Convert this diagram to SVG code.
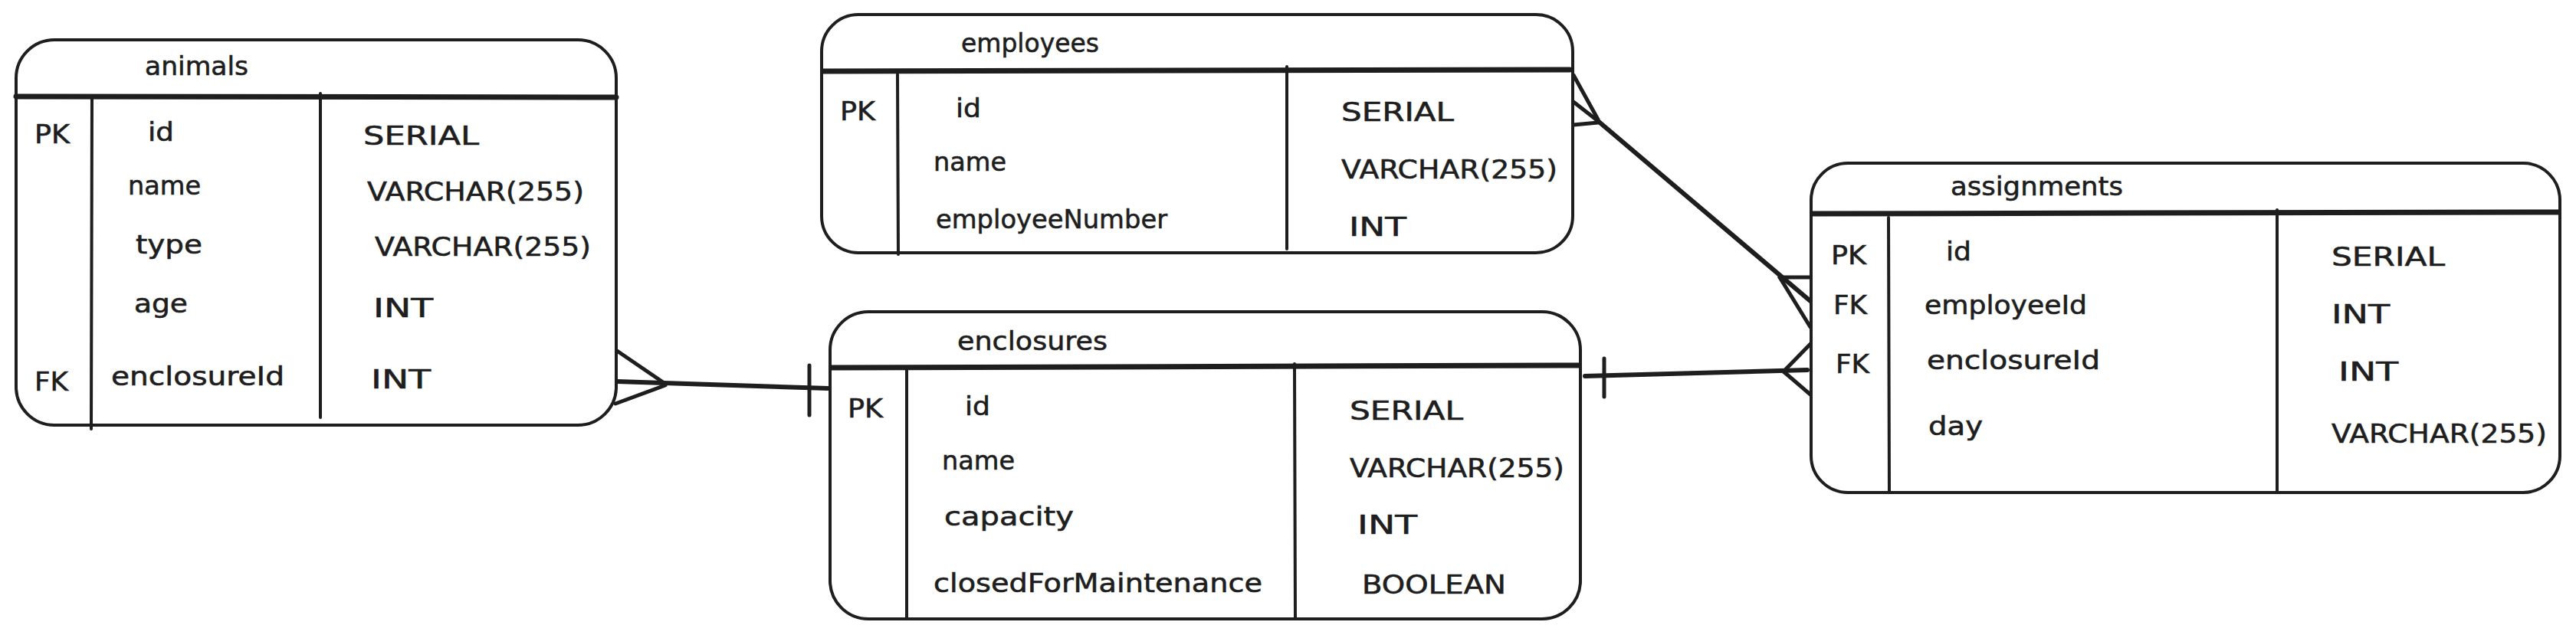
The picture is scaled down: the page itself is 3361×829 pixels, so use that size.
<svg xmlns="http://www.w3.org/2000/svg" width="3361" height="829" viewBox="0 0 3361 829">
<style>
.box{fill:#ffffff;stroke:#1e1e1e;stroke-width:4}
.hdr{stroke:#1e1e1e;stroke-width:7;stroke-linecap:round}
.div{stroke:#1e1e1e;stroke-width:4;stroke-linecap:round}
.con{stroke:#1e1e1e;stroke-width:6;stroke-linecap:round;fill:none}
.prong{stroke:#1e1e1e;stroke-width:5;stroke-linecap:round;fill:none}
text{font-family:"DejaVu Sans","Liberation Sans",sans-serif;font-size:34px;fill:#1e1e1e;stroke:#1e1e1e;stroke-width:0.6}
</style>
<rect width="3361" height="829" fill="#ffffff"/>
<g id="connectors">
  <!-- animals to enclosures -->
  <line class="con" x1="805" y1="498" x2="1080" y2="507"/>
  <line class="prong" x1="805" y1="458" x2="868" y2="501"/>
  <line class="prong" x1="803" y1="527" x2="868" y2="503"/>
  <line class="prong" x1="1056" y1="477" x2="1056" y2="542"/>
  <!-- enclosures to assignments -->
  <line class="con" x1="2068" y1="491" x2="2358" y2="483"/>
  <line class="prong" x1="2093" y1="468" x2="2093" y2="518"/>
  <line class="prong" x1="2327" y1="485" x2="2368" y2="443"/>
  <line class="prong" x1="2327" y1="485" x2="2362" y2="515"/>
  <!-- employees to assignments -->
  <line class="con" x1="2085" y1="158" x2="2362" y2="393"/>
  <line class="prong" x1="2053" y1="98" x2="2085" y2="156"/>
  <line class="prong" x1="2053" y1="133" x2="2085" y2="158"/>
  <line class="prong" x1="2053" y1="163" x2="2085" y2="160"/>
  <line class="prong" x1="2322" y1="362" x2="2375" y2="362"/>
  <line class="prong" x1="2322" y1="362" x2="2362" y2="427"/>
</g>
<g id="animals">
  <rect class="box" x="21" y="52" width="783" height="503" rx="50"/>
  <line class="hdr" x1="21" y1="126" x2="804" y2="127"/>
  <line class="div" x1="120" y1="128" x2="119" y2="560"/>
  <line class="div" x1="418" y1="122" x2="418" y2="545"/>
  <text x="189" y="98" textLength="135" lengthAdjust="spacingAndGlyphs">animals</text>
  <text x="45" y="187" textLength="46" lengthAdjust="spacingAndGlyphs">PK</text>
  <text x="193" y="184" textLength="34" lengthAdjust="spacingAndGlyphs">id</text>
  <text x="474" y="189" textLength="151" lengthAdjust="spacingAndGlyphs">SERIAL</text>
  <text x="167" y="254" textLength="95" lengthAdjust="spacingAndGlyphs">name</text>
  <text x="479" y="262" textLength="283" lengthAdjust="spacingAndGlyphs">VARCHAR(255)</text>
  <text x="177" y="331" textLength="87" lengthAdjust="spacingAndGlyphs">type</text>
  <text x="489" y="334" textLength="282" lengthAdjust="spacingAndGlyphs">VARCHAR(255)</text>
  <text x="175" y="408" textLength="70" lengthAdjust="spacingAndGlyphs">age</text>
  <text x="487" y="414" textLength="78" lengthAdjust="spacingAndGlyphs">INT</text>
  <text x="45" y="510" textLength="44" lengthAdjust="spacingAndGlyphs">FK</text>
  <text x="145" y="503" textLength="226" lengthAdjust="spacingAndGlyphs">enclosureId</text>
  <text x="484" y="507" textLength="78" lengthAdjust="spacingAndGlyphs">INT</text>
</g>
<g id="employees">
  <rect class="box" x="1072" y="19" width="980" height="311" rx="48"/>
  <line class="hdr" x1="1074" y1="93" x2="2048" y2="91"/>
  <line class="div" x1="1171" y1="97" x2="1172" y2="332"/>
  <line class="div" x1="1679" y1="87" x2="1679" y2="325"/>
  <text x="1254" y="68" textLength="180" lengthAdjust="spacingAndGlyphs">employees</text>
  <text x="1096" y="157" textLength="46" lengthAdjust="spacingAndGlyphs">PK</text>
  <text x="1247" y="153" textLength="33" lengthAdjust="spacingAndGlyphs">id</text>
  <text x="1750" y="158" textLength="147" lengthAdjust="spacingAndGlyphs">SERIAL</text>
  <text x="1218" y="223" textLength="95" lengthAdjust="spacingAndGlyphs">name</text>
  <text x="1750" y="233" textLength="282" lengthAdjust="spacingAndGlyphs">VARCHAR(255)</text>
  <text x="1221" y="298" textLength="302" lengthAdjust="spacingAndGlyphs">employeeNumber</text>
  <text x="1760" y="308" textLength="75" lengthAdjust="spacingAndGlyphs">INT</text>
</g>
<g id="enclosures">
  <rect class="box" x="1083" y="407" width="979" height="401" rx="50"/>
  <line class="hdr" x1="1085" y1="480" x2="2060" y2="477"/>
  <line class="div" x1="1183" y1="483" x2="1183" y2="808"/>
  <line class="div" x1="1689" y1="475" x2="1690" y2="808"/>
  <text x="1249" y="457" textLength="196" lengthAdjust="spacingAndGlyphs">enclosures</text>
  <text x="1106" y="545" textLength="46" lengthAdjust="spacingAndGlyphs">PK</text>
  <text x="1259" y="542" textLength="33" lengthAdjust="spacingAndGlyphs">id</text>
  <text x="1761" y="548" textLength="148" lengthAdjust="spacingAndGlyphs">SERIAL</text>
  <text x="1229" y="613" textLength="95" lengthAdjust="spacingAndGlyphs">name</text>
  <text x="1761" y="623" textLength="280" lengthAdjust="spacingAndGlyphs">VARCHAR(255)</text>
  <text x="1232" y="686" textLength="169" lengthAdjust="spacingAndGlyphs">capacity</text>
  <text x="1771" y="697" textLength="78" lengthAdjust="spacingAndGlyphs">INT</text>
  <text x="1218" y="773" textLength="429" lengthAdjust="spacingAndGlyphs">closedForMaintenance</text>
  <text x="1777" y="775" textLength="188" lengthAdjust="spacingAndGlyphs">BOOLEAN</text>
</g>
<g id="assignments">
  <rect class="box" x="2363" y="213" width="977" height="430" rx="48"/>
  <line class="hdr" x1="2366" y1="279" x2="3338" y2="277"/>
  <line class="div" x1="2464" y1="284" x2="2465" y2="643"/>
  <line class="div" x1="2971" y1="274" x2="2971" y2="643"/>
  <text x="2545" y="255" textLength="225" lengthAdjust="spacingAndGlyphs">assignments</text>
  <text x="2389" y="345" textLength="46" lengthAdjust="spacingAndGlyphs">PK</text>
  <text x="2539" y="340" textLength="33" lengthAdjust="spacingAndGlyphs">id</text>
  <text x="3042" y="347" textLength="148" lengthAdjust="spacingAndGlyphs">SERIAL</text>
  <text x="2392" y="410" textLength="44" lengthAdjust="spacingAndGlyphs">FK</text>
  <text x="2511" y="410" textLength="212" lengthAdjust="spacingAndGlyphs">employeeId</text>
  <text x="3042" y="422" textLength="76" lengthAdjust="spacingAndGlyphs">INT</text>
  <text x="2395" y="487" textLength="44" lengthAdjust="spacingAndGlyphs">FK</text>
  <text x="2514" y="482" textLength="226" lengthAdjust="spacingAndGlyphs">enclosureId</text>
  <text x="3051" y="497" textLength="78" lengthAdjust="spacingAndGlyphs">INT</text>
  <text x="2516" y="568" textLength="71" lengthAdjust="spacingAndGlyphs">day</text>
  <text x="3042" y="578" textLength="281" lengthAdjust="spacingAndGlyphs">VARCHAR(255)</text>
</g>
</svg>
